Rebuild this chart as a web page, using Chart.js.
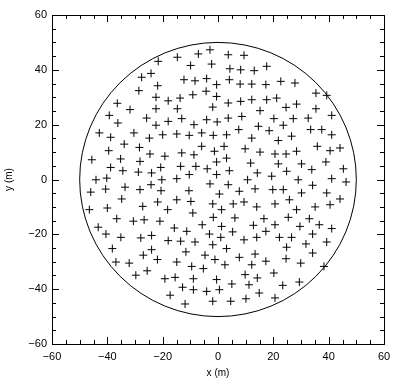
<!DOCTYPE html>
<html>
<head>
<meta charset="utf-8">
<script src="https://cdn.jsdelivr.net/npm/chart.js@4.4.0/dist/chart.umd.min.js"></script>
<style>
html,body{margin:0;padding:0;background:#fff;}
</style>
</head>
<body>
<canvas id="myChart" width="400" height="382"></canvas>
<script>
// positions of the crosses (m)
var puntosX = [
  -21.6,-27.6,-24.2,-21.8,-28.6,-22.4,-18.0,-36.4,-31.8,-22.4,-39.3,-25.8,-18.0,-36.2,-22.4,
  -2.9,-7.1,-14.7,3.7,9.4,-9.9,-2.3,4.3,8.2,13.1,-12.3,-8.3,-4.1,-0.5,4.1,8.0,12.2,-13.7,-9.1,-4.3,-0.5,3.7,8.2,12.2,-14.7,-1.9,15.2,-13.1,-8.7,-4.1,-0.3,3.7,8.6,7.5,14.6,
  17.6,17.3,22.7,27.8,17.6,21.2,35.4,39.3,28.4,24.6,35.4,41.1,20.2,27.2,32.6,23.6,
  -42.9,-38.8,-30.4,-24.8,-20.0,-33.9,-28.4,-39.5,-24.6,-19.2,-45.6,-35.2,-28.2,-38.8,-34.4,-28.8,-24.0,-20.7,-44.1,-40.2,-20.3,-33.6,-28.2,-24.2,-20.6,-46.0,-40.6,-34.8,-27.2,-21.8,-18.2,-46.5,-40.0,-36.6,-30.6,-26.7,-21.0,
  -14.9,-10.4,-5.9,-1.7,3.1,12.2,-5.9,-13.1,-8.7,-1.3,2.2,3.1,9.8,15.2,-13.5,-8.0,-3.9,-0.5,4.1,11.8,14.2,-14.9,-10.4,-0.5,-2.9,3.7,10.7,-10.5,0.5,7.7,13.4,-14.9,-9.8,-1.9,5.5,9.4,14.0,-9.1,1.3,-1.7,6.1,16.6,
  18.5,26.6,21.8,33.5,37.5,41.1,35.9,40.5,44.1,20.6,24.6,28.4,21.8,30.2,39.0,24.8,33.9,45.3,19.4,29.0,41.1,46.3,19.8,23.6,34.2,30.2,39.3,25.8,44.1,20.6,35.1,40.5,28.4,25.4,33.0,
  -43.3,-15.8,-40.5,-35.1,-27.9,-24.0,-18.0,-38.2,-24.0,-27.0,-21.9,-36.9,-32.1,-25.6,-29.7,-19.2,-17.3,
  -11.3,-5.7,1.3,-3.1,1.0,5.3,12.8,-13.5,-8.3,-1.9,3.1,9.4,14.0,-11.6,-4.7,-1.1,2.5,7.7,13.4,12.2,-14.9,-9.5,-5.3,-15.5,-8.9,-0.5,5.0,9.8,14.2,-12.8,-8.9,-4.1,0.5,11.2,14.9,-11.9,-1.9,4.6,10.1,
  20.6,17.3,36.6,29.6,41.1,22.2,26.6,34.2,39.3,24.8,31.8,34.2,17.3,24.6,29.9,38.3,20.2,23.4,29.4,20.6
];
var puntosY = [
  43.1,37.3,38.7,34.2,32.4,30.0,28.7,27.8,25.5,25.8,23.4,22.4,21.2,20.6,19.8,
  47.3,45.8,44.6,45.5,45.3,41.6,42.1,40.4,40.0,39.7,36.4,36.0,36.8,34.6,36.4,34.8,34.8,29.7,30.9,32.2,30.3,27.9,28.5,29.1,25.8,26.4,25.1,22.2,20.0,21.8,21.0,22.4,23.0,18.2,19.4,
  41.3,34.6,35.8,35.2,29.1,29.7,31.5,30.7,27.5,26.3,25.8,23.4,22.2,22.2,22.4,19.8,
  17.0,15.4,17.0,15.1,16.3,12.9,11.7,10.5,9.3,8.5,7.2,7.5,6.6,4.4,3.2,2.7,2.4,4.4,-0.1,0.5,-0.1,-2.8,-3.7,-1.9,-4.1,-4.6,-3.5,-7.1,-9.8,-8.2,-11.0,-11.0,-10.4,-14.3,-15.2,-14.7,-15.2,
  16.6,16.1,17.0,16.1,16.3,15.1,12.1,9.7,9.0,10.3,12.1,7.8,11.2,10.0,4.8,4.8,3.9,6.4,3.2,6.0,2.4,0.3,1.8,1.8,-1.6,-1.9,-0.1,-4.1,-5.3,-4.3,-3.4,-7.4,-8.0,-8.9,-8.9,-8.2,-10.0,-12.2,-11.0,-13.8,-14.0,-14.3,
  17.8,15.8,14.2,18.2,18.2,16.3,12.1,10.5,11.5,9.3,9.3,10.3,5.7,5.7,6.4,3.0,3.6,3.9,1.2,-0.1,0.3,-0.9,-3.7,-3.7,-2.1,-4.9,-4.9,-7.4,-7.1,-8.9,-10.0,-9.2,-11.0,-13.8,-14.3,
  -17.4,-17.7,-19.9,-21.1,-21.3,-20.4,-22.3,-25.2,-25.6,-27.6,-29.2,-30.1,-30.5,-33.3,-34.9,-36.2,-42.2,
  -18.9,-16.5,-17.1,-19.9,-21.1,-19.1,-16.7,-22.5,-22.8,-23.8,-25.2,-22.0,-21.1,-26.4,-27.6,-29.2,-31.1,-28.4,-27.2,-31.1,-30.1,-31.7,-32.5,-35.7,-36.2,-36.5,-38.1,-34.7,-35.9,-39.3,-40.2,-40.8,-40.2,-38.4,-41.4,-45.4,-44.4,-44.4,-43.5,
  -16.5,-18.9,-16.5,-17.1,-17.9,-21.1,-21.1,-19.9,-22.8,-24.7,-23.5,-26.8,-29.8,-28.9,-30.5,-31.7,-34.1,-38.6,-37.4,-43.2
];
var radioCirculo = 50;
var ejeMin = -60, ejeMax = 60;

function formatoTick(v){
    return v < 0 ? '\u2212' + Math.abs(v) : '' + v;
}

// frame, inward ticks and the outer circle
const marco = {
    id: 'marco',
    afterDatasetsDraw(chart){
        const ctx = chart.ctx;
        const a = chart.chartArea;
        const sx = chart.scales.x, sy = chart.scales.y;
        ctx.save();
        ctx.strokeStyle = '#000';
        ctx.lineWidth = 1;
        ctx.strokeRect(Math.round(a.left)+0.5, Math.round(a.top)+0.5, Math.round(a.right-a.left), Math.round(a.bottom-a.top));
        ctx.beginPath();
        for(let v = ejeMin; v <= ejeMax; v += 5){
            let largo = (v % 20 === 0) ? 7 : 4;
            let px = Math.round(sx.getPixelForValue(v))+0.5;
            ctx.moveTo(px, a.bottom); ctx.lineTo(px, a.bottom-largo);
            ctx.moveTo(px, a.top); ctx.lineTo(px, a.top+largo);
            let py = Math.round(sy.getPixelForValue(v))+0.5;
            ctx.moveTo(a.left, py); ctx.lineTo(a.left+largo, py);
            ctx.moveTo(a.right, py); ctx.lineTo(a.right-largo, py);
        }
        ctx.stroke();
        const cx = sx.getPixelForValue(0), cy = sy.getPixelForValue(0);
        const rx = sx.getPixelForValue(radioCirculo) - cx;
        const ry = cy - sy.getPixelForValue(radioCirculo);
        ctx.beginPath();
        ctx.ellipse(cx, cy, rx, ry, 0, 0, Math.PI*2);
        ctx.stroke();
        ctx.restore();
    }
};

const ctx = document.getElementById('myChart').getContext('2d');
const chart = new Chart(ctx, {
    type: 'scatter',
    data: {
        datasets: [{
            data: puntosX.map((x, i) => ({x: x, y: puntosY[i]})),
            pointStyle: 'cross',
            pointRadius: 4,
            pointBorderWidth: 1,
            borderColor: '#000',
            backgroundColor: '#000'
        }]
    },
    options: {
        responsive: false,
        animation: false,
        devicePixelRatio: 1,
        layout: {padding: {top: 15, right: 16, left: 0, bottom: 0}},
        plugins: {legend: {display: false}, tooltip: {enabled: false}},
        scales: {
            x: {
                type: 'linear', min: ejeMin, max: ejeMax,
                grid: {display: false, drawTicks: false},
                border: {display: false},
                ticks: {stepSize: 20, color: '#000', padding: 6, maxRotation: 0,
                        font: {family: 'Liberation Sans', size: 11}, callback: formatoTick},
                title: {display: true, text: 'x (m)', color: '#000',
                        font: {family: 'Liberation Sans', size: 10}, padding: {top: 3, bottom: 3}},
                afterFit: function(s){ s.height = 38; }
            },
            y: {
                type: 'linear', min: ejeMin, max: ejeMax,
                grid: {display: false, drawTicks: false},
                border: {display: false},
                ticks: {stepSize: 20, color: '#000', padding: 5,
                        font: {family: 'Liberation Sans', size: 11}, callback: formatoTick},
                title: {display: true, text: 'y (m)', color: '#000',
                        font: {family: 'Liberation Sans', size: 10}, padding: {top: 3, bottom: 3}},
                afterFit: function(s){ s.width = 52; }
            }
        }
    },
    plugins: [marco]
});
</script>
</body>
</html>
